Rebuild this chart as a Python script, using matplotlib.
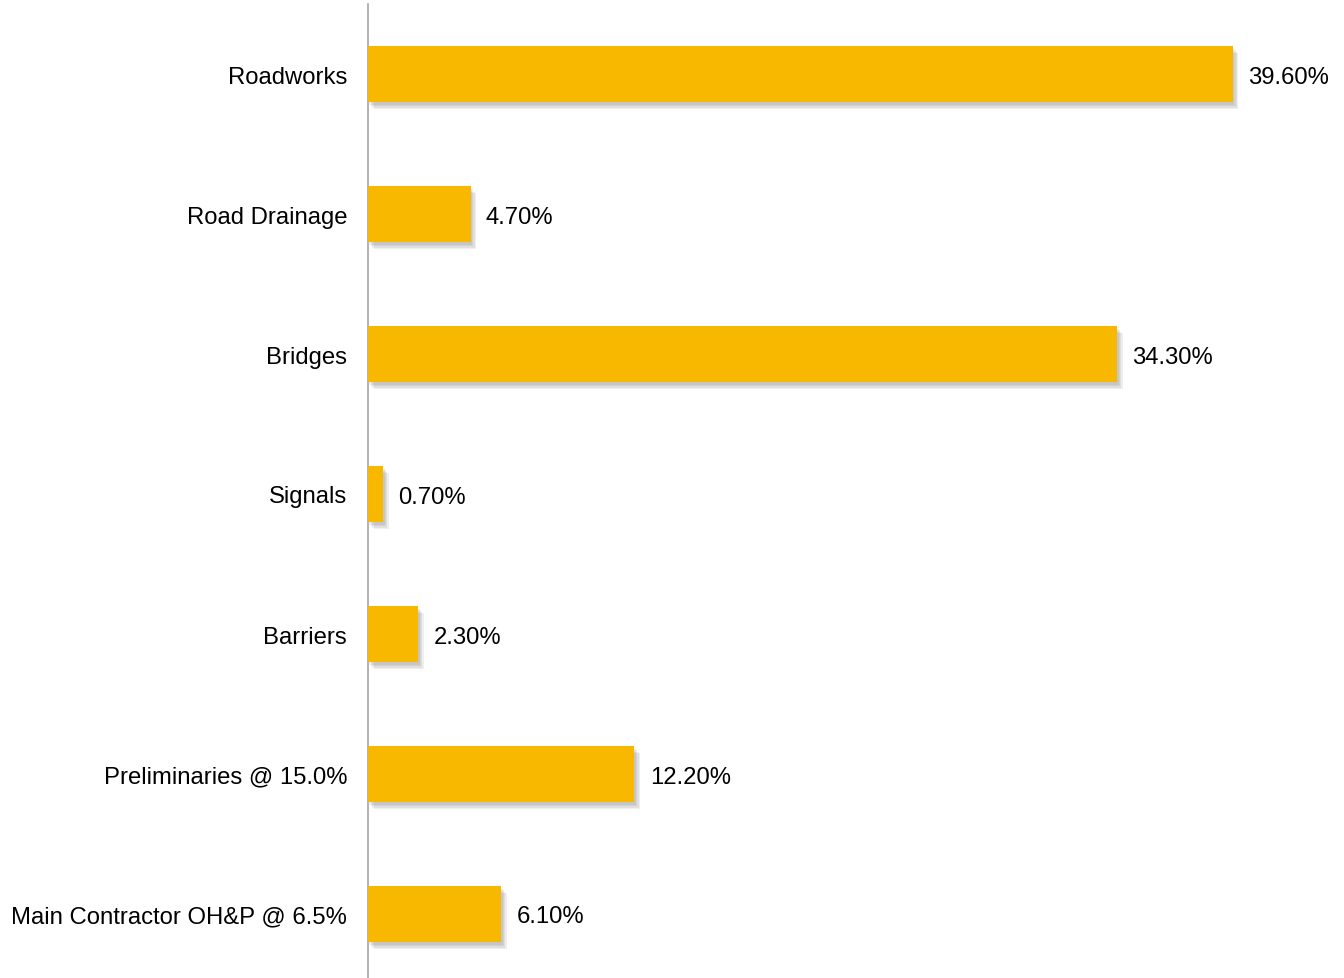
import matplotlib
matplotlib.use("Agg")
import matplotlib.pyplot as plt
import matplotlib.patheffects as pe

categories = ["Roadworks", "Road Drainage", "Bridges", "Signals", "Barriers",
              "Preliminaries @ 15.0%", "Main Contractor OH&P @ 6.5%"]
values = [39.6, 4.7, 34.3, 0.7, 2.3, 12.2, 6.1]
value_labels = ["39.60%", "4.70%", "34.30%", "0.70%", "2.30%", "12.20%", "6.10%"]

plt.rcParams['font.family'] = ['Liberation Sans', 'DejaVu Sans']

W, H = 1344, 979
fig = plt.figure(figsize=(W / 100, H / 100), dpi=100)
left = 368 / W
ax = fig.add_axes([left, -6 / H, 1 - left, 980 / H])

y = list(range(len(categories)))
bars = ax.barh(y, values, height=0.4, color="#F9B800", zorder=3)
shadow = [pe.SimplePatchShadow(offset=(o, -o - 1), shadow_rgbFace="#606060", alpha=0.10)
          for o in (1, 2, 3, 4)]
for b in bars:
    b.set_path_effects(shadow + [pe.Normal()])

ax.set_ylim(len(categories) - 0.5, -0.5)
ax.set_xlim(0, (W - 368) / 21.84)

for yi, v, lab in zip(y, values, value_labels):
    ax.annotate(lab, xy=(v, yi), xytext=(11, 0), textcoords="offset points",
                ha="left", va="center_baseline", fontsize=17.2, color="#000000")

ax.set_yticks(y)
ax.set_yticklabels(categories, fontsize=17.2, color="#000000")
ax.tick_params(axis="y", length=0, pad=15)
ax.set_xticks([])
for s in ["top", "right", "bottom"]:
    ax.spines[s].set_visible(False)
ax.spines["left"].set_color("#A6A6A6")
ax.spines["left"].set_linewidth(1.2)

fig.savefig("out.png", dpi=100)
